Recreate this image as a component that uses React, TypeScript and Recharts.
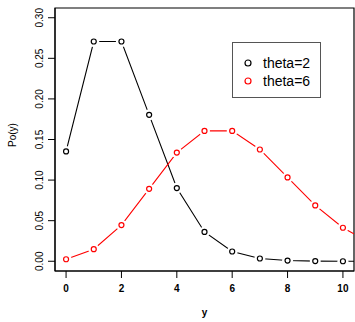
import React from 'react';
import { LineChart, Line, XAxis, YAxis, ReferenceArea, Legend, Label } from 'recharts';

// Poisson probabilities (y = 0..11, the last point falls outside the box)
const yValues = [0, 1, 2, 3, 4, 5, 6, 7, 8, 9, 10, 11];
const theta2 = [0.1353, 0.2707, 0.2707, 0.1804, 0.0902, 0.0361, 0.012, 0.0034, 0.0009, 0.0002, 0.00004, 0.00001];
const theta6 = [0.0025, 0.0149, 0.0446, 0.0892, 0.1339, 0.1606, 0.1606, 0.1377, 0.1033, 0.0688, 0.0413, 0.0225];

const xTicks = [0, 2, 4, 6, 8, 10];
const yTicks = [0, 0.05, 0.1, 0.15, 0.2, 0.25, 0.3];
const seriesNames = ['theta=2', 'theta=6'];
const seriesColors = ['#000000', '#ff0000'];

const data = yValues.map((y, i) => ({ y, theta2: theta2[i], theta6: theta6[i] }));

const FONT = '"Liberation Sans", Arial, Helvetica, sans-serif';

// R type="b": open circle with a small gap before the line
const OpenDot = (props: any) => {
  const { cx, cy, stroke, index } = props;
  if (cx == null || cy == null) return <g key={index} />;
  return (
    <g key={index}>
      <circle cx={cx} cy={cy} r={5.5} fill="#fff" stroke="none" />
      <circle cx={cx} cy={cy} r={2.5} fill="#fff" stroke={stroke} strokeWidth={1.2} />
    </g>
  );
};

const YTick = (props: any) => {
  const { x, y, payload } = props;
  return (
    <text
      x={x}
      y={y}
      transform={`rotate(-90, ${x}, ${y})`}
      textAnchor="middle"
      fontSize={10}
      fontFamily={FONT}
      fill="#000"
    >
      {Number(payload.value).toFixed(2)}
    </text>
  );
};

const LegendBox = () => (
  <div
    style={{
      width: 89,
      height: 56,
      boxSizing: 'border-box',
      border: '1px solid #555',
      background: '#fff',
      fontFamily: FONT,
      fontSize: 14,
      position: 'relative',
    }}
  >
    {seriesNames.map((name, i) => (
      <div
        key={name}
        style={{ position: 'absolute', left: 0, top: 11 + i * 18, height: 18, display: 'flex', alignItems: 'center' }}
      >
        <svg width={30} height={18}>
          <circle cx={15} cy={9} r={3} fill="none" stroke={seriesColors[i]} strokeWidth={1.2} />
        </svg>
        <span style={{ color: '#000' }}>{name}</span>
      </div>
    ))}
  </div>
);

export default function App() {
  return (
    <div style={{ width: 355, height: 322, background: '#fff' }}>
      <style>{'body{margin:0}'}</style>
      <LineChart width={355} height={322} data={data} margin={{ top: 8, right: 1, bottom: 0, left: 0 }}>
        <XAxis
          dataKey="y"
          type="number"
          domain={[-0.4, 10.4]}
          allowDataOverflow
          ticks={xTicks}
          height={51}
          stroke="#000"
          tickSize={7}
          tickMargin={7}
          tick={{ fill: '#000', fontSize: 10, fontWeight: 'bold', fontFamily: FONT }}
        >
          <Label value="y" position="insideBottom" offset={6} fill="#000" fontSize={10} fontWeight="bold" fontFamily={FONT} />
        </XAxis>
        <YAxis
          type="number"
          domain={[-0.012, 0.312]}
          allowDataOverflow
          ticks={yTicks}
          width={55}
          stroke="#000"
          tickSize={7}
          tickMargin={5}
          tick={<YTick />}
        >
          <Label
            content={() => (
              <text
                x={16}
                y={135}
                transform="rotate(-90, 16, 135)"
                textAnchor="middle"
                fontSize={10}
                fontFamily={FONT}
                fill="#000"
              >
                Po(y)
              </text>
            )}
          />
        </YAxis>
        <ReferenceArea x1={-0.4} x2={10.4} y1={-0.012} y2={0.312} fill="none" stroke="#000" strokeWidth={1.2} ifOverflow="visible" />
        <Line
          dataKey="theta2"
          name={seriesNames[0]}
          stroke={seriesColors[0]}
          strokeWidth={1.1}
          dot={<OpenDot />}
          activeDot={false}
          isAnimationActive={false}
        />
        <Line
          dataKey="theta6"
          name={seriesNames[1]}
          stroke={seriesColors[1]}
          strokeWidth={1.1}
          dot={<OpenDot />}
          activeDot={false}
          isAnimationActive={false}
        />
        <Legend
          layout="vertical"
          align="center"
          verticalAnchor="middle"
          verticalAlign="middle"
          content={<LegendBox />}
          wrapperStyle={{ left: 232, top: 42, width: 89, height: 56 }}
        />
      </LineChart>
    </div>
  );
}
